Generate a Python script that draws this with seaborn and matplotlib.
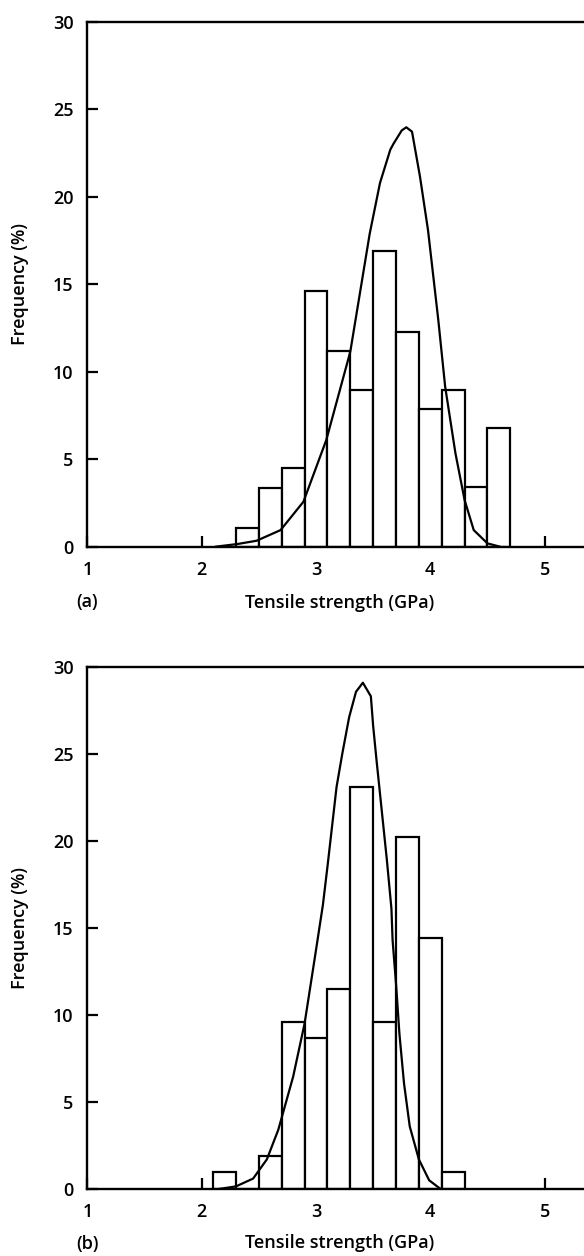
import numpy as np
import pandas as pd
import matplotlib
matplotlib.use("Agg")
import matplotlib.pyplot as plt
import seaborn as sns

# ---------------- data ----------------
# panel (a): histogram bin edges (GPa) and frequencies (%)
bin_edges_a = [2.3, 2.5, 2.7, 2.9, 3.1, 3.3, 3.5, 3.7, 3.9, 4.1, 4.3, 4.5, 4.7]
freq_a = [1.05, 3.35, 4.5, 14.6, 11.2, 8.95, 16.9, 12.3, 7.9, 8.95, 3.4, 6.8]
# panel (a): fitted distribution curve
curve_x_a = [2.12, 2.31, 2.48, 2.69, 2.89, 3.09, 3.30, 3.47, 3.56, 3.65, 3.68,
             3.75, 3.79, 3.84, 3.91, 3.98, 4.07, 4.13, 4.22, 4.30, 4.38, 4.50, 4.61]
curve_y_a = [0.0, 0.15, 0.34, 0.95, 2.57, 6.1, 11.15, 17.9, 20.8, 22.7, 23.06,
             23.8, 23.98, 23.73, 21.15, 18.1, 12.96, 9.15, 5.34, 2.67, 0.95, 0.19, 0.0]

# panel (b)
bin_edges_b = [2.1, 2.3, 2.5, 2.7, 2.9, 3.1, 3.3, 3.5, 3.7, 3.9, 4.1, 4.3]
freq_b = [1.0, 0.0, 1.9, 9.6, 8.7, 11.5, 23.1, 9.6, 20.2, 14.4, 1.0]
curve_x_b = [2.15, 2.30, 2.45, 2.57, 2.67, 2.80, 2.90, 2.99, 3.06, 3.10, 3.14,
             3.18, 3.23, 3.29, 3.35, 3.41, 3.48, 3.50, 3.53, 3.56, 3.59, 3.62,
             3.66, 3.67, 3.70, 3.73, 3.77, 3.82, 3.90, 3.99, 4.09]
curve_y_b = [0.0, 0.15, 0.6, 1.7, 3.4, 6.45, 9.5, 13.3, 16.3, 18.5, 20.8,
             23.1, 25.0, 27.1, 28.56, 29.08, 28.3, 26.6, 24.6, 22.7, 20.8, 18.9,
             16.1, 14.3, 11.8, 8.9, 6.07, 3.6, 1.7, 0.5, 0.0]

x_ticks = [1, 2, 3, 4, 5]
y_ticks = [0, 5, 10, 15, 20, 25, 30]
x_label = "Tensile strength (GPa)"
y_label = "Frequency (%)"
panel_labels = ["(a)", "(b)"]

# ---------------- style ----------------
sns.set_theme(style="ticks")
plt.rcParams["font.family"] = ["Open Sans", "Liberation Sans", "DejaVu Sans"]
plt.rcParams["font.weight"] = "semibold"
plt.rcParams["axes.linewidth"] = 1.7

FS = 13
W, H = 584, 1256
fig = plt.figure(figsize=(W / 100, H / 100), dpi=100)

left_px = 87.4
px_per_unit = 114.3
x_max = 1 + (W - left_px) / px_per_unit

panels = [
    dict(edges=bin_edges_a, freq=freq_a, cx=curve_x_a, cy=curve_y_a,
         top=22.0, bottom=546.7, lab_px=602.5, tag=panel_labels[0]),
    dict(edges=bin_edges_b, freq=freq_b, cx=curve_x_b, cy=curve_y_b,
         top=666.7, bottom=1189.0, lab_px=1243.5, tag=panel_labels[1]),
]

for p in panels:
    ax = fig.add_axes([left_px / W, 1 - p["bottom"] / H,
                       (W - left_px) / W, (p["bottom"] - p["top"]) / H])
    edges = list(p["edges"])
    centers = [(a + b) / 2 for a, b in zip(edges[:-1], edges[1:])]
    hist_df = pd.DataFrame({"strength": centers, "freq": p["freq"]})
    curve_df = pd.DataFrame({"strength": p["cx"], "freq": p["cy"]})
    sns.histplot(data=hist_df, x="strength", weights="freq", bins=edges,
                 ax=ax, color="white", edgecolor="black", linewidth=1.6,
                 alpha=1, fill=True)
    sns.lineplot(data=curve_df, x="strength", y="freq", ax=ax, color="black",
                 linewidth=1.6, estimator=None, sort=False)

    ax.set_xlim(1, x_max)
    ax.set_ylim(0, 30)
    ax.set_xticks(x_ticks)
    ax.set_yticks(y_ticks)
    ax.spines["right"].set_visible(False)
    for s in ["top", "left", "bottom"]:
        ax.spines[s].set_linewidth(1.7)
        ax.spines[s].set_color("black")
    ax.tick_params(axis="both", direction="in", length=8, width=1.6,
                   labelsize=FS, colors="black")
    ax.tick_params(axis="x", pad=10)
    ax.tick_params(axis="y", pad=10)
    for lbl in ax.get_xticklabels() + ax.get_yticklabels():
        lbl.set_fontweight("semibold")

    h_px = p["bottom"] - p["top"]
    w_px = W - left_px
    ylab_y = (p["bottom"] - p["lab_px"]) / h_px

    ax.set_ylabel(y_label, fontsize=FS, color="black", fontweight="semibold")
    ax.yaxis.set_label_coords((20.5 - left_px) / w_px, 0.5)
    ax.yaxis.label.set_verticalalignment("center")

    ax.set_xlabel(x_label, fontsize=FS, color="black", fontweight="semibold")
    ax.xaxis.set_label_coords((340 - left_px) / w_px, ylab_y)
    ax.xaxis.label.set_verticalalignment("center")

    ax.text(0.0, ylab_y, p["tag"], transform=ax.transAxes, ha="center",
            va="center", fontsize=FS, color="black", fontweight="semibold")
    ax.set_facecolor("white")

fig.savefig("out.png", dpi=100, facecolor="white")
